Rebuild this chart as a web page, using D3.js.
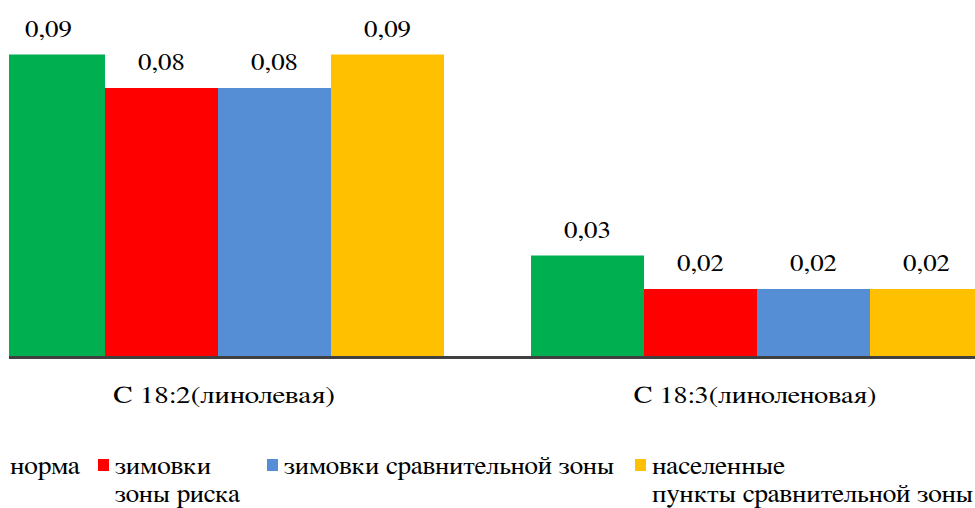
<!DOCTYPE html>
<html>
<head>
<meta charset="utf-8">
<script src="https://cdn.jsdelivr.net/npm/d3@7"></script>
<style>
  html, body { margin: 0; padding: 0; background: #fff; }
  svg { display: block; }
</style>
</head>
<body>
<div id="chart"></div>
<script>
// Fatty acid content by group
const categories = ["С 18:2(линолевая)", "С 18:3(линоленовая)"];
const series = ["норма", "зимовки зоны риска", "зимовки сравнительной зоны", "населенные пункты сравнительной зоны"];
const values = [
  [0.09, 0.08, 0.08, 0.09],
  [0.03, 0.02, 0.02, 0.02]
];
const valueLabels = [
  ["0,09", "0,08", "0,08", "0,09"],
  ["0,03", "0,02", "0,02", "0,02"]
];
// Legend entries, wrapped into lines as they are drawn
const legendLines = [
  ["норма"],
  ["зимовки", "зоны риска"],
  ["зимовки сравнительной зоны"],
  ["населенные", "пункты сравнительной зоны"]
];

const colors = ["#00B050", "#FF0000", "#558ED5", "#FFC000"];

const W = 975, H = 508;
const baseY = 356;
const serif = '"FreeSerif", "Liberation Serif", serif';

// Rendered text widths (layout)
const valueLabelWidth = 47;
const axisLabelWidth = [222, 243];
const axisLabelX = [224, 755];
const legendX = [-14, 98, 267, 635];
const legendTextWidth = [[70], [96, 125], [330], [133, 321]];

const svg = d3.select("#chart").append("svg")
  .attr("width", W).attr("height", H);

svg.append("defs").append("clipPath").attr("id", "plotClip")
  .append("rect").attr("x", 9).attr("y", 0).attr("width", W - 9).attr("height", H);

const x0 = d3.scaleBand()
  .domain(categories)
  .range([-51.5, 1026.5])
  .paddingInner(0.1614)
  .paddingOuter(0.0807);

const x1 = d3.scaleBand()
  .domain(series)
  .range([0, x0.bandwidth()])
  .padding(0);

const y = d3.scaleLinear()
  .domain([0, 0.09])
  .range([baseY, 54.5]);

const plot = svg.append("g").attr("clip-path", "url(#plotClip)");

const groups = plot.selectAll("g.grp")
  .data(categories)
  .join("g")
  .attr("class", "grp")
  .attr("transform", d => `translate(${x0(d)},0)`);

groups.selectAll("rect")
  .data((c, i) => series.map((s, j) => ({ s, v: values[i][j], j })))
  .join("rect")
  .attr("x", d => x1(d.s))
  .attr("width", x1.bandwidth())
  .attr("y", d => y(d.v))
  .attr("height", d => y(0) - y(d.v))
  .attr("fill", d => colors[d.j]);

// Category axis line
plot.append("line")
  .attr("x1", 0).attr("x2", W)
  .attr("y1", y(0) + 1.5).attr("y2", y(0) + 1.5)
  .attr("stroke", "#404040").attr("stroke-width", 3);

function addText(x, yPos, str, size, width, anchor) {
  return svg.append("text")
    .attr("x", x).attr("y", yPos)
    .attr("text-anchor", anchor)
    .attr("textLength", width)
    .attr("lengthAdjust", "spacingAndGlyphs")
    .style("font-family", serif)
    .style("font-size", size + "px")
    .attr("fill", "#000")
    .text(str);
}

// Value labels above bars
categories.forEach((c, i) => {
  series.forEach((s, j) => {
    const cx = x0(c) + x1(s) + x1.bandwidth() / 2;
    addText(cx, y(values[i][j]) - 18, valueLabels[i][j], 23, valueLabelWidth, "middle");
  });
});

// Category labels
categories.forEach((c, i) => {
  addText(axisLabelX[i], 403, c, 24, axisLabelWidth[i], "middle");
});

// Legend
series.forEach((s, j) => {
  const lx = legendX[j];
  svg.append("rect")
    .attr("x", lx).attr("y", 459)
    .attr("width", 11).attr("height", 12)
    .attr("fill", colors[j]);
  legendLines[j].forEach((line, k) => {
    addText(j === 0 ? 10 : lx + 17, 474 + k * 28, line, 25, legendTextWidth[j][k], "start");
  });
});
</script>
</body>
</html>
